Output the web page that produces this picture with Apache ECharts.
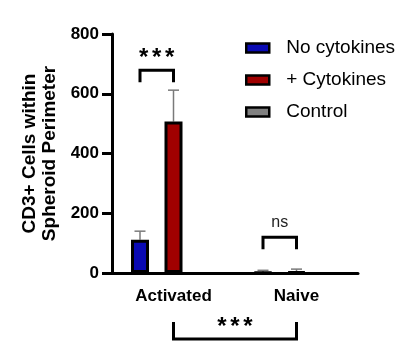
<!DOCTYPE html>
<html>
<head>
<meta charset="utf-8">
<style>html,body{margin:0;padding:0;background:#fff;}#c{width:414px;height:350px;}</style>
<script src="https://cdn.jsdelivr.net/npm/echarts@6/dist/echarts.min.js"></script>
</head>
<body>
<div id="c"></div>
<script>
// ---- data ----
const categories = ['Activated', 'Naive'];
const seriesNames = ['No cytokines', '+ Cytokines', 'Control'];
const noCytokines = [111, 2];
const plusCytokines = [507, 4];
const control = [null, null];
const noCytokinesErr = [29, 7];
const plusCytokinesErr = [105, 9];
const yTicks = [0, 200, 400, 600, 800];
// significance brackets: [category, series slot] for each end, level, label
const bracketLeft = [[0, 0], [1, 0], [0, 1]];
const bracketRight = [[0, 1], [1, 1], [1, 1]];
const bracketLevel = [679, 120, -221];
const bracketLabel = ['***', 'ns', '***'];

// ---- style ----
const FONT = '"Liberation Sans", Arial, Helvetica, sans-serif';
const BAR_W = 18;
const STEP = 33.5;
const colors = ['#0a0ab4', '#a00000', '#808080'];

const chart = echarts.init(document.getElementById('c'), null, {renderer: 'canvas'});

const errData = [];
[noCytokines, plusCytokines].forEach((vals, s) => {
  const errs = s === 0 ? noCytokinesErr : plusCytokinesErr;
  vals.forEach((v, i) => errData.push([i, v, errs[i], s]));
});
const brData = bracketLevel.map((lv, i) => [bracketLeft[i][0], lv, bracketRight[i][0], bracketLeft[i][1], bracketRight[i][1], i]);

const barSeries = [noCytokines, plusCytokines, control].map((d, s) => ({
  name: seriesNames[s],
  type: 'bar',
  data: d,
  barWidth: BAR_W,
  barGap: ((STEP - BAR_W) / BAR_W * 100) + '%',
  itemStyle: {color: colors[s], borderColor: '#000', borderWidth: 3},
  z: 3
}));

const option = {
  animation: false,
  grid: {left: 112, width: 246, top: 34, bottom: 77},
  legend: {
    orient: 'vertical', left: 245, top: 38, padding: 0,
    itemWidth: 23, itemHeight: 9, itemGap: 12,
    icon: 'rect',
    itemStyle: {borderColor: '#000', borderWidth: 2.5},
    textStyle: {fontFamily: FONT, fontSize: 19, color: '#000', lineHeight: 20, padding: [0, 0, 0, 12]},
    data: seriesNames
  },
  xAxis: {
    type: 'category', data: categories,
    axisLine: {lineStyle: {color: '#000', width: 3}},
    axisTick: {alignWithLabel: true, length: 10, lineStyle: {color: '#000', width: 3}},
    axisLabel: {fontFamily: FONT, fontSize: 17, fontWeight: 'bold', color: '#000', margin: 15}
  },
  yAxis: {
    type: 'value', min: yTicks[0], max: yTicks[yTicks.length - 1], interval: yTicks[1] - yTicks[0],
    name: 'CD3+ Cells within\nSpheroid Perimeter',
    nameLocation: 'middle', nameGap: 48, nameRotate: 90,
    nameTextStyle: {fontFamily: FONT, fontSize: 19, fontWeight: 'bold', color: '#000', lineHeight: 20},
    axisLine: {show: true, lineStyle: {color: '#000', width: 3}},
    axisTick: {show: true, length: 10, lineStyle: {color: '#000', width: 3}},
    axisLabel: {fontFamily: FONT, fontSize: 17, fontWeight: 'bold', color: '#000', margin: 13},
    splitLine: {show: false}
  },
  series: barSeries.concat([
    {
      type: 'custom', name: 'err', z: 2, silent: true,
      data: errData,
      renderItem: function (params, api) {
        const cat = api.value(0), v = api.value(1), e = api.value(2), s = api.value(3);
        const b = api.coord([cat, v]);
        const t = api.coord([cat, v + e]);
        const x = b[0] + (s - 1) * STEP;
        const st = {stroke: '#7a7a7a', lineWidth: 1.5};
        return {type: 'group', children: [
          {type: 'line', shape: {x1: x, y1: b[1], x2: x, y2: t[1]}, style: st},
          {type: 'line', shape: {x1: x - 5.5, y1: t[1], x2: x + 5.5, y2: t[1]}, style: st}
        ]};
      }
    },
    {
      type: 'custom', name: 'sig', z: 4, silent: true, clip: false,
      data: brData,
      renderItem: function (params, api) {
        const c1 = api.value(0), lv = api.value(1), c2 = api.value(2), s1 = api.value(3), s2 = api.value(4), idx = api.value(5);
        const p1 = api.coord([c1, lv]);
        const p2 = api.coord([c2, lv]);
        const x1 = p1[0] + (s1 - 1) * STEP, x2 = p2[0] + (s2 - 1) * STEP, y = p1[1];
        const down = lv >= 0;
        const leg = down ? 12 : -17;
        const label = bracketLabel[idx];
        const isNs = label === 'ns';
        const cx = (x1 + x2) / 2;
        const children = [
          {type: 'polyline', shape: {points: [[x1, y + leg], [x1, y], [x2, y], [x2, y + leg]]},
           style: {stroke: '#000', lineWidth: 3, fill: null, lineJoin: 'miter'}}
        ];
        if (isNs) {
          children.push({type: 'text', x: cx, y: y - 15,
            style: {text: label, align: 'center', verticalAlign: 'middle', fill: '#222', font: 'normal 16px ' + FONT}});
        } else {
          const n = label.length;
          for (let k = 0; k < n; k++) {
            children.push({type: 'text', x: cx + (k - (n - 1) / 2) * 13, y: y - 12,
              style: {text: label[k], align: 'center', verticalAlign: 'middle', fill: '#000', font: 'bold 24px ' + FONT}});
          }
        }
        return {type: 'group', children: children};
      }
    }
  ])
};
chart.setOption(option);
</script>
</body>
</html>
